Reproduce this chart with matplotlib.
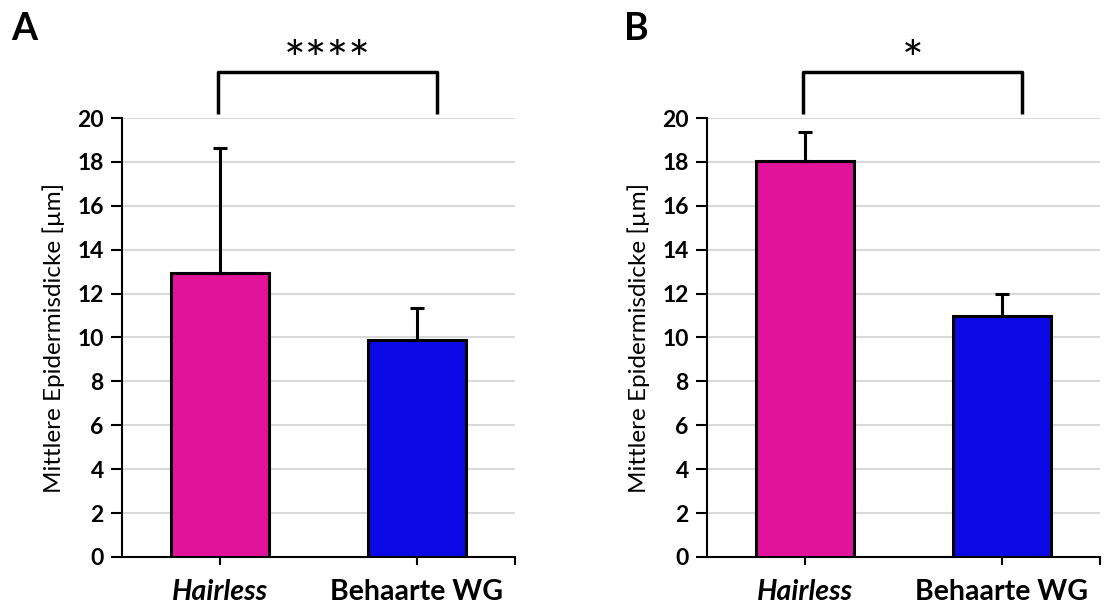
import matplotlib.pyplot as plt

# data
groups = ["Hairless", "Behaarte WG"]
means_a = [12.95, 9.9]
err_a = [5.7, 1.45]
means_b = [18.05, 11.0]
err_b = [1.3, 1.0]
stars_a = "****"
stars_b = "*"
colors = ["#e0139a", "#0b0ae6"]
ylabel = "Mittlere Epidermisdicke [µm]"

plt.rcParams["font.family"] = ["Lato", "DejaVu Sans"]

fig = plt.figure(figsize=(11.08, 6.07), dpi=100)
ax_a = fig.add_axes([0.110, 0.0824, 0.355, 0.7232])
ax_b = fig.add_axes([0.638, 0.0824, 0.355, 0.7232])


def draw_panel(ax, means, errs, stars, letter, letter_x):
    x = list(range(len(groups)))
    ax.bar(x, means, width=0.5, color=colors, edgecolor="black",
           linewidth=2.2, zorder=3)
    ax.errorbar(x, means, yerr=[[0] * len(errs), errs], fmt="none",
                ecolor="black", elinewidth=2.2, capsize=5, capthick=2.2, zorder=4)
    ax.set_xlim(-0.5, len(groups) - 0.5)
    ax.set_ylim(0, 20)
    ax.set_yticks(range(0, 21, 2))
    ax.yaxis.grid(True, color="#d9d9d9", linewidth=1.5, zorder=0)
    ax.set_axisbelow(True)
    for s in ["top", "right"]:
        ax.spines[s].set_visible(False)
    for s in ["left", "bottom"]:
        ax.spines[s].set_linewidth(1.5)
    ax.tick_params(axis="y", direction="out", length=8, width=1.5,
                   labelsize=16.5, pad=5)
    ax.tick_params(axis="x", direction="out", length=6, width=1.5, pad=10)
    ax.tick_params(axis="x", which="minor", direction="out", length=6, width=1.5)
    for lbl in ax.get_yticklabels():
        lbl.set_fontweight("bold")
    ax.set_xticks(x)
    ax.set_xticks([len(groups) - 0.5], minor=True)
    ax.set_xticklabels(groups, fontsize=20.5, fontweight="bold")
    ax.get_xticklabels()[0].set_style("italic")
    ax.set_ylabel(ylabel, fontsize=17.5, labelpad=9)

    # significance bracket
    y_top, y_leg = 22.1, 20.2
    xl, xr = x[0] - 0.01, x[1] + 0.1
    ax.plot([xl, xl, xr, xr], [y_leg, y_top, y_top, y_leg],
            color="black", linewidth=2.5, clip_on=False, solid_capstyle="butt")
    ax.text((xl + xr) / 2, y_top - 0.65, stars, ha="center", va="bottom",
            fontsize=37, clip_on=False)
    fig.text(letter_x, 0.953, letter, fontsize=27, fontweight="bold",
             ha="left", va="center")


draw_panel(ax_a, means_a, err_a, stars_a, "A", 0.010)
draw_panel(ax_b, means_b, err_b, stars_b, "B", 0.563)

fig.savefig("out.png", dpi=100)
